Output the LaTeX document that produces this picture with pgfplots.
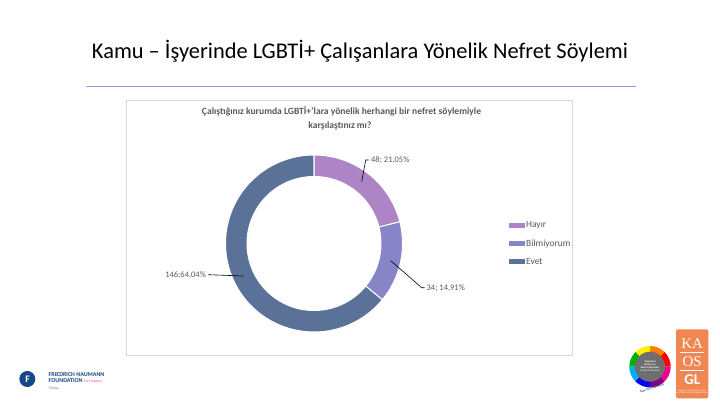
\documentclass[border=0pt]{standalone}
\usepackage{pgfplots}
\pgfplotsset{compat=1.18}
\usepackage{fontspec}
\setmainfont{Carlito}
\newfontfamily\serifx{Liberation Serif}
\definecolor{hayir}{RGB}{173,132,198}
\definecolor{bilmiyorum}{RGB}{135,132,199}
\definecolor{evet}{RGB}{91,114,152}
\definecolor{txt}{RGB}{89,89,89}
\definecolor{titleline}{RGB}{178,140,214}
\definecolor{boxgray}{RGB}{217,217,217}
\definecolor{fnfblue}{RGB}{22,72,135}
\definecolor{fnfpink}{RGB}{230,60,140}
\definecolor{kaos}{RGB}{240,135,82}
\definecolor{logogray}{RGB}{110,110,110}
\begin{document}
\begin{tikzpicture}
% data: Hayır, Bilmiyorum, Evet
\pgfmathsetmacro{\vA}{48}
\pgfmathsetmacro{\vB}{34}
\pgfmathsetmacro{\vC}{146}
\pgfmathsetmacro{\tot}{\vA+\vB+\vC}
\pgfmathsetmacro{\aO}{90}
\pgfmathsetmacro{\aA}{\aO-360*(\vA/\tot)}
\pgfmathsetmacro{\aB}{\aA-360*(\vB/\tot)}
\pgfmathsetmacro{\aC}{\aB-360*(\vC/\tot)}
\def\cx{314}
\def\cy{161.5}
\def\RR{88.5}
\begin{axis}[
  width=720bp, height=405bp, scale only axis,
  xmin=0, xmax=720, ymin=0, ymax=405,
  hide axis, clip=false,
  legend cell align=left,
  legend image code/.code={\fill[#1] (0bp,-2.5bp) rectangle (5bp,2.5bp);},
  legend style={draw=none, fill=none, inner sep=0pt,
    at={(axis cs:507.5,185)}, anchor=north west,
    font=\fontsize{9.5}{11}\selectfont\color{txt},
    row sep=8.3bp,
    nodes={inner sep=0.5bp, text height=7bp, text depth=2bp},
    /tikz/every even column/.append style={column sep=0bp}},
]
\fill[white] (axis cs:0,0) rectangle (axis cs:720,405);
% slide title
\node[anchor=base, font=\fontsize{22.5}{26}\selectfont] at (axis cs:360,346.7)
  {Kamu – İşyerinde LGBTİ+ Çalışanlara Yönelik Nefret Söylemi};
\draw[titleline, line width=1.5bp] (axis cs:86,318.3) -- (axis cs:636,318.3);
% chart area
\draw[boxgray, line width=0.75bp] (axis cs:126,50) rectangle (axis cs:572,304.7);
\node[anchor=base, font=\bfseries\fontsize{9.6}{11}\selectfont, text=txt] at (axis cs:341.5,290)
  {Çalıştığınız kurumda LGBTİ+'lara yönelik herhangi bir nefret söylemiyle};
\node[anchor=base, font=\bfseries\fontsize{9.6}{11}\selectfont, text=txt] at (axis cs:340,276.5)
  {karşılaştınız mı?};
% donut slices
\addplot[area legend, fill=hayir, draw=white, line width=1bp, domain=\aA:\aO, samples=60, variable=\ang]
  ({\cx+\RR*cos(\ang)},{\cy+\RR*sin(\ang)}) -- (axis cs:\cx,\cy) -- cycle;
\addlegendentry{Hayır}
\addplot[area legend, fill=bilmiyorum, draw=white, line width=1bp, domain=\aB:\aA, samples=50, variable=\ang]
  ({\cx+\RR*cos(\ang)},{\cy+\RR*sin(\ang)}) -- (axis cs:\cx,\cy) -- cycle;
\addlegendentry{Bilmiyorum}
\addplot[area legend, fill=evet, draw=white, line width=1bp, domain=\aC:\aB, samples=120, variable=\ang]
  ({\cx+\RR*cos(\ang)},{\cy+\RR*sin(\ang)}) -- (axis cs:\cx,\cy) -- cycle;
\addlegendentry{Evet}
\fill[white] (axis cs:\cx,\cy) circle[radius=67.5bp];
% data labels
\draw[black, line width=0.6bp] (axis cs:361.7,223.3) -- (axis cs:365.7,245) -- (axis cs:368.5,245);
\node[anchor=west, inner sep=0pt, font=\fontsize{8.5}{10}\selectfont, text=txt] at (axis cs:371,245) {48; 21,05\%};
\draw[black, line width=0.6bp] (axis cs:390.7,144.3) -- (axis cs:421.7,117.3) -- (axis cs:424.5,117.3);
\node[anchor=west, inner sep=0pt, font=\fontsize{8.5}{10}\selectfont, text=txt] at (axis cs:426.5,117.3) {34; 14,91\%};
\draw[black, line width=0.6bp] (axis cs:243.3,129) -- (axis cs:208.3,130.3);
\node[anchor=east, inner sep=0pt, font=\fontsize{8.5}{10}\selectfont, text=txt] at (axis cs:206,130.3) {146;64,04\%};
% FNF logo
\fill[fnfblue] (axis cs:27.3,26) circle[radius=8bp];
\node[text=white, font=\bfseries\fontsize{10}{10}\selectfont, inner sep=0pt] at (axis cs:27.6,26) {F};
\node[anchor=base west, inner sep=0pt, text=fnfblue, font=\bfseries\fontsize{6}{6}\selectfont] at (axis cs:48.5,29)
  {FRIEDRICH NAUMANN};
\node[anchor=base west, inner sep=0pt, text=fnfblue, font=\bfseries\fontsize{6}{6}\selectfont] at (axis cs:48.5,22.5)
  {FOUNDATION \textcolor{fnfpink}{\mdseries\fontsize{3.5}{4}\selectfont For Freedom.}};
\node[anchor=base west, inner sep=0pt, text=logogray, font=\fontsize{3.5}{4}\selectfont] at (axis cs:48.5,15.5) {Türkiye};
% Kadir Has logo
\fill[red] (axis cs:650,38.3) -- ++(0:20.7bp) arc[start angle=0, end angle=45, radius=20.7bp] -- cycle;
\fill[orange] (axis cs:650,38.3) -- ++(45:20.7bp) arc[start angle=45, end angle=90, radius=20.7bp] -- cycle;
\fill[yellow] (axis cs:650,38.3) -- ++(90:20.7bp) arc[start angle=90, end angle=135, radius=20.7bp] -- cycle;
\fill[green!70!black] (axis cs:650,38.3) -- ++(135:20.7bp) arc[start angle=135, end angle=180, radius=20.7bp] -- cycle;
\fill[cyan] (axis cs:650,38.3) -- ++(180:20.7bp) arc[start angle=180, end angle=225, radius=20.7bp] -- cycle;
\fill[blue] (axis cs:650,38.3) -- ++(225:20.7bp) arc[start angle=225, end angle=270, radius=20.7bp] -- cycle;
\fill[violet] (axis cs:650,38.3) -- ++(270:20.7bp) arc[start angle=270, end angle=315, radius=20.7bp] -- cycle;
\fill[magenta] (axis cs:650,38.3) -- ++(315:20.7bp) arc[start angle=315, end angle=360, radius=20.7bp] -- cycle;
\fill[logogray] (axis cs:650,38.3) circle[radius=15bp];
\node[text=white, align=center, inner sep=0pt, font=\bfseries\fontsize{2.6}{3}\selectfont] at (axis cs:650,39)
  {Toplumsal\\Cinsiyet ve\\Kadın Çalışmaları\\\mdseries Araştırma Merkezi};
\node[text=fnfblue, inner sep=0pt, rotate=18, font=\bfseries\fontsize{2.8}{3}\selectfont] at (axis cs:652,17) {Kadir Has Üniversitesi};
% KAOS GL logo
\fill[kaos, rounded corners=1.5bp] (axis cs:676,6.7) rectangle (axis cs:708.3,75.7);
\node[text=white, inner sep=0pt, font=\serifx\fontsize{15}{15}\selectfont] at (axis cs:692.2,61.7) {KA};
\node[text=white, inner sep=0pt, font=\serifx\fontsize{15}{15}\selectfont] at (axis cs:692.2,43.3) {OS};
\node[text=white, inner sep=0pt, font=\bfseries\fontsize{15}{15}\selectfont] at (axis cs:692.2,25) {GL};
\draw[white, line width=0.8bp] (axis cs:680,52.3) -- (axis cs:704.3,52.3);
\draw[white, line width=0.8bp] (axis cs:680,34.3) -- (axis cs:704.3,34.3);
\node[text=white, inner sep=0pt, align=center, font=\fontsize{2}{2.4}\selectfont] at (axis cs:692.2,13)
  {LEZBİYEN, GEY, BİSEKSÜEL, TRANS\\VE İNTERSEKS KÜLTÜREL ARAŞTIRMALAR};
\end{axis}
\end{tikzpicture}
\end{document}
